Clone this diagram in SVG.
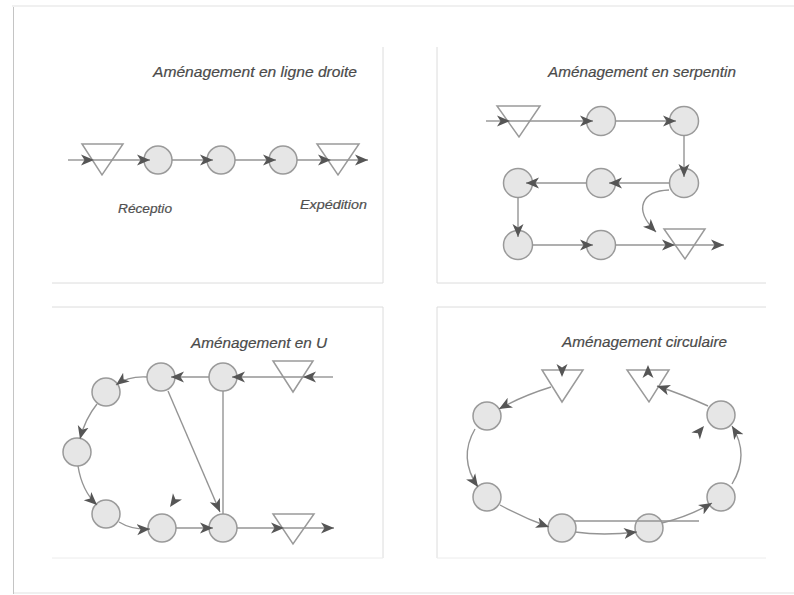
<svg xmlns="http://www.w3.org/2000/svg" xmlns:xlink="http://www.w3.org/1999/xlink" width="794" height="595" viewBox="0 0 794 595">
  <style>
    .frame { fill: none; stroke: #e2e2e2; stroke-width: 1.2; }
    .panel { fill: none; stroke: #dcdcdc; stroke-width: 1; }
    .panel-faint { fill: none; stroke: #ececec; stroke-width: 1; }
    .station { fill: #e6e6e6; stroke: #9a9a9a; stroke-width: 1.5; }
    .stock { fill: #ffffff; stroke: #9a9a9a; stroke-width: 1.5; }
    .flow { fill: none; stroke: #949494; stroke-width: 1.4; }
    .flow-a { fill: none; stroke: #949494; stroke-width: 1.4; marker-end: url(#arrow); }
    .title { font-family: "Liberation Sans", Arial, sans-serif; font-style: italic; font-size: 15px; fill: #4a4a4a; stroke: #4a4a4a; stroke-width: 0.2; }
    .label { font-family: "Liberation Sans", Arial, sans-serif; font-style: italic; font-size: 13px; fill: #505050; stroke: #505050; stroke-width: 0.2; }
    .head { fill: #555555; }
  </style>
  <defs>
    <marker id="arrow" markerUnits="userSpaceOnUse" markerWidth="14" markerHeight="12" viewBox="0 0 14 12" refX="13" refY="6" orient="auto">
      <path d="M0,0.5 L13,6 L0,11.5 L3.5,6 Z" fill="#555555"/>
    </marker>
    <!-- loose arrowhead, tip at the origin, pointing along +x -->
    <path id="ah" d="M-13,-5.5 L0,0 L-13,5.5 L-9.5,0 Z"/>
    <filter id="soft" x="-50%" y="-5%" width="200%" height="110%">
      <feGaussianBlur stdDeviation="1.2"/>
    </filter>
  </defs>

  <rect width="794" height="595" fill="#ffffff"/>

  <!-- page frame -->
  <g id="page">
    <line x1="12" y1="6" x2="794" y2="6" class="frame"/>
    <line x1="13" y1="593" x2="794" y2="593" class="frame"/>
    <line x1="13" y1="7" x2="13" y2="594" stroke="#b5b5b5" stroke-width="2.4" filter="url(#soft)"/>
    <line x1="13.5" y1="7" x2="13.5" y2="594" stroke="#c4c4c4" stroke-width="1"/>
  </g>

  <!-- panel outlines -->
  <g id="panels">
    <path d="M383,47 V283 H52" class="panel"/>
    <path d="M437,47 V283 H766" class="panel"/>
    <path d="M52,307 H383 V558" class="panel"/>
    <line x1="52" y1="558" x2="383" y2="558" class="panel-faint"/>
    <path d="M766,307 H437 V558" class="panel"/>
    <line x1="437" y1="558" x2="766" y2="558" class="panel-faint"/>
  </g>

  <!-- ===== Straight line layout ===== -->
  <g id="straight">
    <text class="title" x="153" y="77" textLength="204" lengthAdjust="spacingAndGlyphs">Aménagement en ligne droite</text>
    <g id="s-recv"><polygon points="82,144 123,144 102,175" class="stock"/></g>
    <g id="s-st1"><circle cx="158" cy="160" r="14" class="station"/></g>
    <g id="s-st2"><circle cx="221" cy="160" r="14" class="station"/></g>
    <g id="s-st3"><circle cx="283" cy="160" r="14" class="station"/></g>
    <g id="s-ship"><polygon points="317,144 359,144 338,175" class="stock"/></g>
    <text class="label" x="118" y="213" textLength="54" lengthAdjust="spacingAndGlyphs">Réceptio</text>
    <text class="label" x="300" y="209" textLength="67" lengthAdjust="spacingAndGlyphs">Expédition</text>
    <g id="s-links">
      <line x1="68" y1="160" x2="94" y2="160" class="flow-a"/>
      <line x1="94" y1="160" x2="150" y2="160" class="flow-a"/>
      <line x1="172" y1="160" x2="213" y2="160" class="flow-a"/>
      <line x1="235" y1="160" x2="276" y2="160" class="flow-a"/>
      <line x1="297" y1="160" x2="331" y2="160" class="flow-a"/>
      <line x1="331" y1="160" x2="368" y2="160" class="flow-a"/>
    </g>
  </g>

  <!-- ===== Serpentine layout ===== -->
  <g id="serpentine">
    <text class="title" x="548" y="77" textLength="188" lengthAdjust="spacingAndGlyphs">Aménagement en serpentin</text>
    <g id="p-recv"><polygon points="497,106 540,106 519,137" class="stock"/></g>
    <g id="p-st1"><circle cx="601" cy="121" r="14.5" class="station"/></g>
    <g id="p-st2"><circle cx="684" cy="121" r="14.5" class="station"/></g>
    <g id="p-st3"><circle cx="684" cy="183" r="14.5" class="station"/></g>
    <g id="p-st4"><circle cx="601" cy="183" r="14.5" class="station"/></g>
    <g id="p-st5"><circle cx="518" cy="183" r="14.5" class="station"/></g>
    <g id="p-st6"><circle cx="518" cy="245" r="14.5" class="station"/></g>
    <g id="p-st7"><circle cx="601" cy="245" r="14.5" class="station"/></g>
    <g id="p-ship"><polygon points="664,229 705,229 685,259" class="stock"/></g>
    <g id="p-links">
      <line x1="486" y1="121" x2="510" y2="121" class="flow-a"/>
      <line x1="510" y1="121" x2="593" y2="121" class="flow-a"/>
      <line x1="615" y1="121" x2="676" y2="121" class="flow-a"/>
      <line x1="684" y1="135" x2="684" y2="177" class="flow-a"/>
      <line x1="670" y1="183" x2="609" y2="183" class="flow-a"/>
      <line x1="587" y1="183" x2="526" y2="183" class="flow-a"/>
      <line x1="518" y1="197" x2="518" y2="237" class="flow-a"/>
      <line x1="532" y1="245" x2="593" y2="245" class="flow-a"/>
      <line x1="615" y1="245" x2="675" y2="245" class="flow-a"/>
      <line x1="675" y1="245" x2="724" y2="245" class="flow-a"/>
      <path d="M669,190 C643,191 632,208 656,232" class="flow-a"/>
    </g>
  </g>

  <!-- ===== U-shaped layout ===== -->
  <g id="u-shape">
    <text class="title" x="191" y="348" textLength="136" lengthAdjust="spacingAndGlyphs">Aménagement en U</text>
    <g id="u-recv"><polygon points="273,361 313,361 293,392" class="stock"/></g>
    <g id="u-st1"><circle cx="223" cy="377" r="14" class="station"/></g>
    <g id="u-st2"><circle cx="161" cy="377" r="14" class="station"/></g>
    <g id="u-st3"><circle cx="106" cy="392" r="14" class="station"/></g>
    <g id="u-st4"><circle cx="77" cy="452" r="14" class="station"/></g>
    <g id="u-st5"><circle cx="106" cy="514" r="14" class="station"/></g>
    <g id="u-st6"><circle cx="162" cy="528" r="14" class="station"/></g>
    <g id="u-st7"><circle cx="223" cy="528" r="14" class="station"/></g>
    <g id="u-ship"><polygon points="273,514 314,514 293,544" class="stock"/></g>
    <g id="u-links">
      <line x1="333" y1="377" x2="303" y2="377" class="flow-a"/>
      <line x1="303" y1="377" x2="232" y2="377" class="flow-a"/>
      <line x1="209" y1="377" x2="171" y2="377" class="flow-a"/>
      <path d="M147,377 Q128,376 116,385" class="flow-a"/>
      <path d="M97,404 Q85,419 80,439" class="flow-a"/>
      <path d="M78,466 Q82,491 97,505" class="flow-a"/>
      <path d="M119,522 Q132,530 150,529" class="flow-a"/>
      <line x1="176" y1="528" x2="213" y2="528" class="flow-a"/>
      <line x1="237" y1="528" x2="284" y2="528" class="flow-a"/>
      <line x1="284" y1="528" x2="334" y2="528" class="flow-a"/>
      <line x1="168" y1="391" x2="220" y2="512" class="flow-a"/>
      <line x1="223" y1="391" x2="223" y2="514" class="flow"/>
      <use href="#ah" xlink:href="#ah" class="head" transform="translate(170,507) rotate(125)"/>
    </g>
  </g>

  <!-- ===== Circular layout ===== -->
  <g id="circular">
    <text class="title" x="562" y="347" textLength="165" lengthAdjust="spacingAndGlyphs">Aménagement circulaire</text>
    <g id="c-recv"><polygon points="542,370 583,370 562,402" class="stock"/></g>
    <g id="c-ship"><polygon points="627,370 669,370 649,402" class="stock"/></g>
    <g id="c-st1"><circle cx="487" cy="416" r="14" class="station"/></g>
    <g id="c-st2"><circle cx="487" cy="497" r="14" class="station"/></g>
    <g id="c-st3"><circle cx="562" cy="528" r="14" class="station"/></g>
    <g id="c-st4"><circle cx="649" cy="528" r="14" class="station"/></g>
    <g id="c-st5"><circle cx="721" cy="497" r="14" class="station"/></g>
    <g id="c-st6"><circle cx="721" cy="415" r="14" class="station"/></g>
    <g id="c-links">
      <use href="#ah" xlink:href="#ah" class="head" transform="translate(562,377) rotate(90)"/>
      <use href="#ah" xlink:href="#ah" class="head" transform="translate(648,365) rotate(-90)"/>
      <path d="M551,387 Q522,396 499,409" class="flow-a"/>
      <path d="M475,429 Q458,458 478,487" class="flow-a"/>
      <path d="M500,505 Q524,518 549,527" class="flow-a"/>
      <line x1="574" y1="521" x2="699" y2="521" class="flow"/>
      <path d="M575,532 Q603,536 637,532" class="flow-a"/>
      <path d="M662,523 Q690,516 712,503" class="flow-a"/>
      <path d="M732,484 Q750,455 732,426" class="flow-a"/>
      <path d="M708,406 Q684,395 657,386" class="flow-a"/>
      <use href="#ah" xlink:href="#ah" class="head" transform="translate(704,426) rotate(-50)"/>
    </g>
  </g>
</svg>
